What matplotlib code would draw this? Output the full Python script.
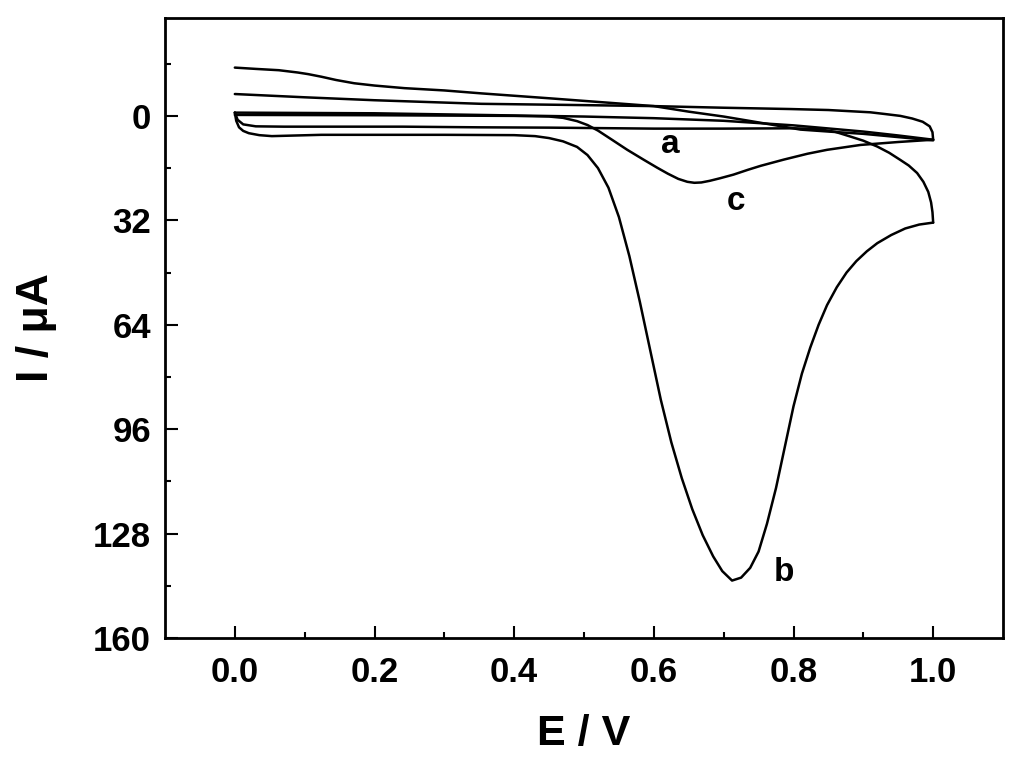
import matplotlib
matplotlib.use("Agg")
import matplotlib.pyplot as plt
from matplotlib.ticker import FixedLocator, FormatStrFormatter

plt.rcParams['font.family'] = ['Liberation Sans', 'DejaVu Sans']
plt.rcParams['font.weight'] = 'bold'

# ---- data (E / V, I / uA; cathodic current plotted downward) ----
# curve a (forward and reverse sweep)
a_fwd_E = [0.0, 0.1, 0.2, 0.35, 0.5, 0.6, 0.7, 0.8, 0.9, 0.95, 1.0]
a_fwd_I = [-1.0, -0.9, -0.8, -0.3, 0.2, 0.7, 1.5, 2.9, 4.8, 6.0, 7.3]
a_rev_E = [1.0, 0.999, 0.995, 0.985, 0.97, 0.953, 0.93, 0.91, 0.85, 0.796, 0.7, 0.6, 0.5, 0.353,
           0.2, 0.1, 0.0]
a_rev_I = [7.3, 5.0, 3.2, 1.8, 0.8, 0.0, -0.6, -1.1, -1.8, -2.1, -2.5, -3.0, -3.3, -3.7,
           -4.8, -5.7, -6.7]

# curve b (forward and reverse sweep)
b_fwd_E = [0.0, 0.002, 0.006, 0.012, 0.02, 0.035, 0.053, 0.124, 0.2, 0.3, 0.4, 0.43, 0.45, 0.47,
           0.49, 0.505, 0.52, 0.535, 0.55, 0.565, 0.58, 0.595, 0.61, 0.625, 0.64, 0.655, 0.67,
           0.685, 0.698, 0.712, 0.725, 0.738, 0.75, 0.762, 0.775, 0.788, 0.8, 0.812, 0.824, 0.836,
           0.848, 0.862, 0.876, 0.89, 0.905, 0.92, 0.94, 0.96, 0.98, 1.0]
b_fwd_I = [-1.0, 1.5, 3.5, 4.6, 5.3, 5.9, 6.2, 5.8, 5.8, 5.8, 5.9, 6.2, 6.8, 7.8,
           9.5, 12.0, 16.0, 22.0, 31.0, 43.0, 57.0, 72.0, 87.0, 100.0, 111.0, 120.5, 128.5,
           135.0, 139.5, 142.4, 141.5, 138.5, 133.5, 125.0, 114.0, 101.0, 89.0, 79.0, 71.0, 64.0,
           58.0, 52.5, 48.0, 44.5, 41.5, 39.0, 36.5, 34.5, 33.3, 32.7]
b_rev_E = [1.0, 0.999, 0.997, 0.993, 0.986, 0.977, 0.965, 0.953, 0.937, 0.92, 0.9, 0.881, 0.86,
           0.834, 0.8, 0.7, 0.6, 0.45, 0.35, 0.24, 0.15, 0.07, 0.03, 0.012, 0.004, 0.0]
b_rev_I = [32.7, 29.5, 26.5, 23.3, 20.2, 17.5, 15.2, 13.5, 11.3, 9.4, 7.6, 6.3, 4.9,
           4.0, 3.8, 3.9, 3.9, 3.6, 3.5, 3.3, 3.3, 3.3, 3.2, 2.6, 1.2, -1.0]

# curve c (forward and reverse sweep)
c_fwd_E = [0.0, 0.2, 0.4, 0.45, 0.47, 0.49, 0.505, 0.52, 0.54, 0.562, 0.586, 0.605, 0.62, 0.635,
           0.648, 0.658, 0.668, 0.68, 0.695, 0.714, 0.735, 0.753, 0.786, 0.82, 0.848, 0.896,
           0.95, 1.0]
c_fwd_I = [-0.3, -0.2, 0.0, 0.2, 0.6, 1.6, 2.8, 4.5, 7.3, 10.4, 13.5, 15.9, 17.7, 19.3,
           20.2, 20.5, 20.4, 19.9, 19.1, 18.0, 16.5, 15.3, 13.4, 11.6, 10.4, 8.9,
           8.0, 7.3]
c_rev_E = [1.0, 0.95, 0.9, 0.85, 0.81, 0.75, 0.7, 0.65, 0.6, 0.5, 0.45, 0.353, 0.3, 0.243, 0.2,
           0.171, 0.145, 0.124, 0.105, 0.09, 0.063, 0.03, 0.0]
c_rev_I = [7.5, 6.5, 5.5, 4.8, 4.2, 2.0, 0.2, -1.3, -3.0, -4.6, -5.4, -6.9, -7.8, -8.5, -9.3,
           -10.0, -11.0, -12.0, -12.8, -13.3, -14.0, -14.4, -14.8]

labels = ['a', 'b', 'c']
label_E = [0.624, 0.786, 0.717]
label_I = [8.9, 139.8, 26.3]

x_major = [0.0, 0.2, 0.4, 0.6, 0.8, 1.0]
x_minor = [0.1, 0.3, 0.5, 0.7, 0.9]
y_major = [0, 32, 64, 96, 128, 160]
y_minor = [-16, 16, 48, 80, 112, 144]

fig = plt.figure(figsize=(10.24, 7.64), dpi=100)
ax = fig.add_axes([165/1024, 1 - 638/764, (1003-165)/1024, (638-18)/764])

lw = 1.8
for E, I in [(a_fwd_E, a_fwd_I), (a_rev_E, a_rev_I), (b_fwd_E, b_fwd_I), (b_rev_E, b_rev_I),
             (c_fwd_E, c_fwd_I), (c_rev_E, c_rev_I)]:
    ax.plot(E, I, color='black', lw=lw, solid_joinstyle='round', solid_capstyle='round')

for t, e, i in zip(labels, label_E, label_I):
    ax.text(e, i, t, fontsize=24, fontweight='bold', ha='center', va='center')

ax.set_xlim(-0.1, 1.1)
ax.set_ylim(160, -30)

ax.xaxis.set_major_locator(FixedLocator(x_major))
ax.xaxis.set_minor_locator(FixedLocator(x_minor))
ax.yaxis.set_major_locator(FixedLocator(y_major))
ax.yaxis.set_minor_locator(FixedLocator(y_minor))
ax.xaxis.set_major_formatter(FormatStrFormatter('%.1f'))
ax.yaxis.set_major_formatter(FormatStrFormatter('%d'))

ax.tick_params(which='both', direction='in', top=False, right=False, width=1.5)
ax.tick_params(which='major', length=9, labelsize=25)
ax.tick_params(axis='x', which='major', pad=13)
ax.tick_params(axis='y', which='major', pad=10)
ax.tick_params(which='minor', length=4.5)
for lab in ax.get_xticklabels() + ax.get_yticklabels():
    lab.set_fontweight('bold')
for s in ax.spines.values():
    s.set_linewidth(2)

ax.set_xlabel('E / V', fontsize=31, fontweight='bold', labelpad=18)
ax.set_ylabel('I / μA', fontsize=32, fontweight='bold', labelpad=26)

fig.savefig('out.png', dpi=100)
